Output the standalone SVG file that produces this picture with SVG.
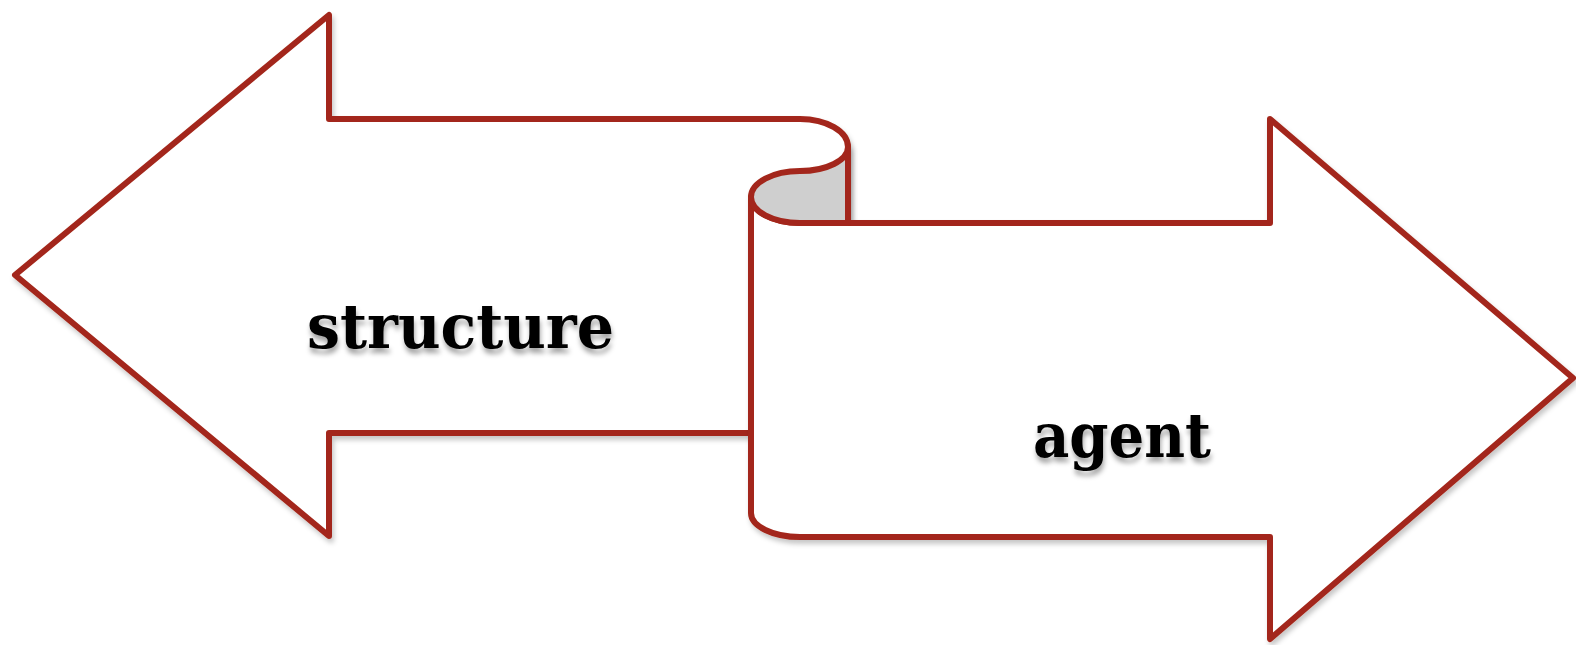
<svg xmlns="http://www.w3.org/2000/svg" width="1576" height="645" viewBox="0 0 1576 645">
<defs>
<filter id="sh" x="-10%" y="-10%" width="120%" height="120%">
<feDropShadow dx="2" dy="4" stdDeviation="2.5" flood-color="#000" flood-opacity="0.22"/>
</filter>
<filter id="tsh" x="-10%" y="-20%" width="120%" height="150%">
<feDropShadow dx="1" dy="5" stdDeviation="2.5" flood-color="#000" flood-opacity="0.35"/>
</filter>
<style>
.s{fill:#fff;stroke:#a3271a;stroke-width:6;stroke-linejoin:round;stroke-linecap:round}
.g{fill:#cfcfcf;stroke:#a3271a;stroke-width:6;stroke-linejoin:round}
.t{font-family:"DejaVu Serif",serif;font-weight:bold;font-size:62px;fill:#000}
</style>
</defs>
<g id="structure" filter="url(#sh)">
<path class="s" d="M329,119 L800,119 A48,28 0 0 1 848,147 L848,433 L329,433 L329,536 L15,275 L329,15 Z"/>
</g>
<g id="agent" filter="url(#sh)">
<path class="s" d="M800,223 L1270,223 L1270,119 L1573,378 L1270,639 L1270,537 L800,537 A49,24 0 0 1 751,513 L751,197 A49,26 0 0 0 800,223 Z"/>
<path class="g" d="M848,147 A48,24 0 0 1 800,171 A49,26 0 0 0 800,223 L848,223 Z"/>
</g>
<g id="connectors"/>
<g id="labels" filter="url(#tsh)">
<text class="t" x="307" y="348" textLength="307" lengthAdjust="spacingAndGlyphs">structure</text>
<text class="t" x="1033" y="457" textLength="178" lengthAdjust="spacingAndGlyphs">agent</text>
</g>
</svg>
